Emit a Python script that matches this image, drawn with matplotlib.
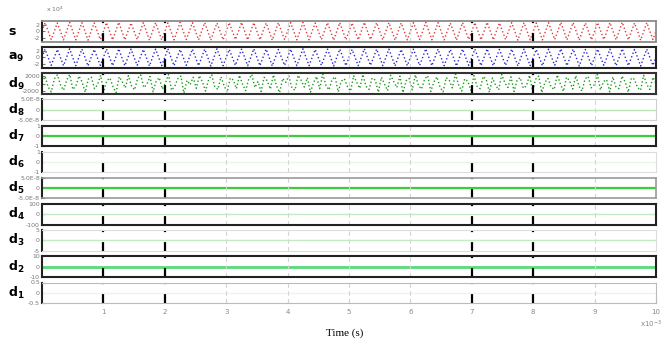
import numpy as np
import matplotlib.pyplot as plt

# panel names (top to bottom)
labels = ["s", "a_9", "d_9", "d_8", "d_7", "d_6", "d_5", "d_4", "d_3", "d_2", "d_1"]

# y tick labels
ytick_text = {
    "s": ["-2", "0", "2"],
    "a_9": ["-2", "0", "2"],
    "d_9": ["-2000", "0", "2000"],
    "d_8": ["-5.0E-8", "0", "5.0E-8"],
    "d_7": ["-1", "0", "1"],
    "d_6": ["-1", "0", "1"],
    "d_5": ["-5.0E-8", "0", "5.0E-8"],
    "d_4": ["-100", "0", "100"],
    "d_3": ["-5", "0", "5"],
    "d_2": ["-10", "0", "10"],
    "d_1": ["-0.5", "0", "0.5"],
}
ytick_vals = {
    "s": 2.0, "a_9": 2.0, "d_9": 2000, "d_8": 5e-8, "d_7": 1, "d_6": 1,
    "d_5": 5e-8, "d_4": 100, "d_3": 5, "d_2": 10, "d_1": 0.5,
}

# signal s and approximation a9: peak / trough per cycle (x10^4), 50 cycles in 10 ms
s_peak = [2.6, 2.5, 2.7, 2.6, 2.5, 2.6, 2.7, 2.5, 2.6, 2.6,
          2.5, 2.7, 2.6, 2.6, 2.5, 2.6, 2.7, 2.6, 2.5, 2.6,
          2.6, 2.7, 2.5, 2.6, 2.6, 2.5, 2.7, 2.6, 2.6, 2.5,
          2.6, 2.7, 2.6, 2.5, 2.6, 2.6, 2.7, 2.5, 2.6, 2.6,
          2.5, 2.6, 2.7, 2.6, 2.5, 2.6, 2.6, 2.7, 2.5, 2.6]
s_trough = [-2.5, -2.6, -2.6, -2.7, -2.5, -2.6, -2.6, -2.5, -2.7, -2.6,
            -2.6, -2.5, -2.6, -2.7, -2.6, -2.5, -2.6, -2.6, -2.7, -2.5,
            -2.6, -2.6, -2.5, -2.7, -2.6, -2.6, -2.5, -2.6, -2.7, -2.6,
            -2.5, -2.6, -2.6, -2.7, -2.5, -2.6, -2.6, -2.5, -2.7, -2.6,
            -2.6, -2.5, -2.6, -2.7, -2.6, -2.5, -2.6, -2.6, -2.7, -2.5]
a9_peak = [2.5, 2.4, 2.6, 2.5, 2.4, 2.5, 2.6, 2.5, 2.4, 2.5,
           2.6, 2.4, 2.5, 2.5, 2.6, 2.4, 2.5, 2.6, 2.5, 2.4,
           2.5, 2.6, 2.4, 2.5, 2.5, 2.4, 2.6, 2.5, 2.5, 2.4,
           2.5, 2.6, 2.5, 2.4, 2.5, 2.5, 2.6, 2.4, 2.5, 2.5,
           2.4, 2.5, 2.6, 2.5, 2.4, 2.5, 2.5, 2.6, 2.4, 2.5]
a9_trough = [-2.4, -2.5, -2.5, -2.6, -2.4, -2.5, -2.5, -2.4, -2.6, -2.5,
             -2.5, -2.4, -2.5, -2.6, -2.5, -2.4, -2.5, -2.5, -2.6, -2.4,
             -2.5, -2.5, -2.4, -2.6, -2.5, -2.5, -2.4, -2.5, -2.6, -2.5,
             -2.4, -2.5, -2.5, -2.6, -2.4, -2.5, -2.5, -2.4, -2.6, -2.5,
             -2.5, -2.4, -2.5, -2.6, -2.5, -2.4, -2.5, -2.5, -2.6, -2.4]

# detail d9, one value every 0.05 ms
d9_vals = [
    300, 1800, -900, -2100, 1200, 2200, -400, -1700, 900, 2300,
    -1500, -600, 1900, 400, -2200, 1100, 1600, -1300, -300, 2100,
    -1900, 700, 1400, -800, -2300, 1700, 500, -1100, 2000, -600,
    -1600, 1300, 2200, -1000, -200, 1800, -2100, 600, 1500, -1400,
    100, 2300, -1700, -700, 1200, 1900, -2400, 800, -300, 1600,
    -1200, 2000, 400, -1900, 1000, 2200, -800, -1500, 1700, -500,
    -2200, 1400, 900, -1300, 2100, -200, -1800, 1100, 2300, -1000,
    500, -2000, 1600, 700, -1400, 2200, -600, -2300, 1300, 300,
    1900, -1100, -1700, 2100, 800, -900, 1500, -2200, 200, 1800,
    -1300, 2400, -400, -1600, 1000, 1700, -2100, 600, 1200, -800,
    -1900, 2000, 300, -1200, 2300, -700, -1500, 1400, 900, -2200,
    1600, -100, -1800, 2100, 500, -1000, 1900, -2300, 700, 1300,
    -1600, 2200, -500, -1400, 1100, 2000, -2000, 400, 1700, -900,
    -2100, 1500, 800, -1100, 2400, -300, -1900, 1200, 600, -1700,
    2000, -700, -1300, 1800, 1000, -2200, 1400, -400, -1600, 2300,
    200, -1000, 1700, -2000, 900, 1500, -1200, -600, 2100, -1800,
    1100, 1900, -2300, 300, 1300, -900, -1500, 2200, -100, -2000,
    1600, 700, -1400, 2000, -600, -1900, 1200, 1800, -1100, -300,
    2300, -1600, 500, 1000, -2100, 1700, -800, -1300, 1900, 400,
    -2200, 1400, 1100, -1000, -1700, 2100, -200, -1500, 1600, 0,
]

# lower details are flat at zero over the whole record
flat_vals = [0.0, 0.0]

# event markers (ms) and grid lines (ms)
event_ms = [1, 2, 7, 8]
grid_ms = [3, 4, 5, 6, 9]
xtick_ms = [1, 2, 3, 4, 5, 6, 7, 8, 9, 10]


def build_wave(peaks, troughs):
    vals = []
    for p, q in zip(peaks, troughs):
        vals += [0.0, p, 0.0, q]
    vals.append(0.0)
    return vals


s_vals = build_wave(s_peak, s_trough)
a9_vals = build_wave(a9_peak, a9_trough)
t_wave = np.linspace(0, 0.01, len(s_vals))
t_d9 = np.linspace(0, 0.01, len(d9_vals))
t_flat = np.linspace(0, 0.01, len(flat_vals))

series = {
    "s": (t_wave, s_vals, "#e23a3a", ":", 1.0),
    "a_9": (t_wave, a9_vals, "#2a2ad0", ":", 1.0),
    "d_9": (t_d9, d9_vals, "#1c9a1c", ":", 1.0),
    "d_8": (t_flat, flat_vals, "#b8e6b8", "-", 1.0),
    "d_7": (t_flat, flat_vals, "#3ccc3c", "-", 1.6),
    "d_6": (t_flat, flat_vals, "#e8f6e8", "-", 1.0),
    "d_5": (t_flat, flat_vals, "#3ccc3c", "-", 1.6),
    "d_4": (t_flat, flat_vals, "#c4eac4", "-", 1.0),
    "d_3": (t_flat, flat_vals, "#c4eac4", "-", 1.0),
    "d_2": (t_flat, flat_vals, "#55dd77", "-", 2.0),
    "d_1": (t_flat, flat_vals, "#f2f2f2", "-", 1.0),
}

ylims = {
    "s": 3.1, "a_9": 3.1, "d_9": 2600, "d_8": 5e-8, "d_7": 1, "d_6": 1,
    "d_5": 5e-8, "d_4": 100, "d_3": 5, "d_2": 10, "d_1": 0.5,
}

# frame style: (colour, width, full box?)
frames = {
    "s": ("#8a8a8a", 1.3, True),
    "a_9": ("#222222", 1.5, True),
    "d_9": ("#333333", 1.5, True),
    "d_8": ("#cfcfcf", 0.8, False),
    "d_7": ("#222222", 1.5, True),
    "d_6": ("#dddddd", 0.8, False),
    "d_5": ("#9a9a9a", 1.2, True),
    "d_4": ("#222222", 1.5, True),
    "d_3": ("#dddddd", 0.8, False),
    "d_2": ("#222222", 1.5, True),
    "d_1": ("#bbbbbb", 0.8, False),
}

fig = plt.figure(figsize=(6.68, 3.45), dpi=100)
W, H = 668, 345
left_px, right_px = 42, 656
top0, pitch, hgt = 21, 26.15, 20.5

axes = []
for i, name in enumerate(labels):
    top = top0 + pitch * i
    ax = fig.add_axes([left_px / W, 1 - (top + hgt) / H,
                       (right_px - left_px) / W, hgt / H])
    t, v, col, ls, lw = series[name]
    ax.plot(t, v, color=col, linestyle=ls, linewidth=lw)
    ax.set_xlim(0, 0.01)
    lim = ylims[name]
    ax.set_ylim(-lim, lim)
    yv = ytick_vals[name]
    ax.set_yticks([-yv, 0, yv])
    ax.set_yticklabels(ytick_text[name])
    ax.tick_params(axis="y", labelsize=4.5, colors="#777777", length=2,
                   direction="in", pad=1.5)
    for k in grid_ms:
        ax.axvline(k * 1e-3, color="#d4d4d4", linestyle=(0, (4, 3)), linewidth=0.8)
    for k in event_ms:
        ax.axvline(k * 1e-3, color="black", linestyle=(0, (4, 4.5)), linewidth=1.6)
    ec, ew, box = frames[name]
    for side in ["top", "bottom", "right"]:
        ax.spines[side].set_color(ec)
        ax.spines[side].set_linewidth(ew)
    ax.spines["left"].set_color("#222222")
    ax.spines["left"].set_linewidth(1.5)
    ax.set_xticks([k * 1e-3 for k in xtick_ms])
    if i < len(labels) - 1:
        ax.tick_params(axis="x", length=0, labelbottom=False)
    else:
        ax.set_xticklabels([str(k) for k in xtick_ms])
        ax.tick_params(axis="x", labelsize=5, colors="#888888", length=2,
                       direction="in", pad=4)
    fig.text(0.012, 1 - (top + hgt / 2) / H, "$\\mathbf{" + name + "}$",
             fontsize=9, ha="left", va="center")
    axes.append(ax)

fig.text(46 / W, 1 - 9 / H, "x 10$^4$", fontsize=4.5, color="#777777",
         ha="left", va="center")
fig.text(640 / W, 1 - 324 / H, "x10$^{-3}$", fontsize=5, color="#888888",
         ha="left", va="center")
fig.text(345 / W, 1 - 333 / H, "Time (s)", fontsize=8, family="Liberation Serif",
         ha="center", va="center")

fig.savefig("out.png", dpi=100)
